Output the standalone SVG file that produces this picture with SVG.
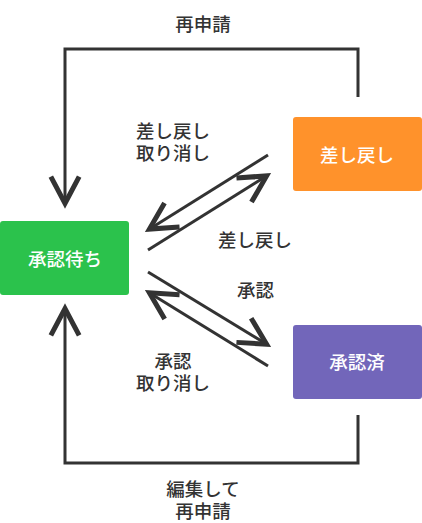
<svg xmlns="http://www.w3.org/2000/svg" width="422" height="523" viewBox="0 0 422 523">
  <style>
    .node-label { font-family: "Noto Sans CJK JP", "Noto Sans", sans-serif; font-size: 18.5px; font-weight: 500; fill: #ffffff; text-anchor: middle; dominant-baseline: central; }
    .edge-label { font-family: "Noto Sans CJK JP", "Noto Sans", sans-serif; font-size: 18.5px; font-weight: 500; fill: #333333; dominant-baseline: central; }
    .edge { fill: none; stroke: #333333; stroke-width: 3; marker-end: url(#arrow); }
  </style>
  <defs>
    <marker id="arrow" markerUnits="userSpaceOnUse" markerWidth="40" markerHeight="40" viewBox="-20 -12 24 24" refX="0" refY="0" orient="auto" overflow="visible">
      <path d="M-17,-8.5 L-1,0 L-17,8.5" fill="none" stroke="#333333" stroke-width="3"/>
    </marker>
  </defs>
  <rect width="422" height="523" fill="#ffffff"/>

  <g id="connectors">
    <polyline class="edge" points="358,97 358,49 65,49 65,205"/>
    <polyline class="edge" points="358,415 358,463 65,463 65,307"/>
    <line class="edge" x1="268" y1="155" x2="148" y2="230"/>
    <line class="edge" x1="148" y1="250" x2="268" y2="175"/>
    <line class="edge" x1="148" y1="272" x2="268" y2="345"/>
    <line class="edge" x1="268" y1="366" x2="148" y2="292"/>
  </g>

  <g id="edge-labels">
    <text class="edge-label" x="203" y="23" text-anchor="middle">再申請</text>
    <text class="edge-label" x="136" y="130">差し戻し<tspan x="136" dy="22">取り消し</tspan></text>
    <text class="edge-label" x="218" y="239">差し戻し</text>
    <text class="edge-label" x="237" y="289">承認</text>
    <text class="edge-label" x="173" y="360" text-anchor="middle">承認<tspan x="173" dy="22">取り消し</tspan></text>
    <text class="edge-label" x="203" y="488" text-anchor="middle">編集して<tspan x="203" dy="22">再申請</tspan></text>
  </g>

  <g id="node-waiting">
    <rect x="0" y="221" width="129" height="74" rx="3" fill="#2BC24C"/>
    <text class="node-label" x="65" y="258">承認待ち</text>
  </g>
  <g id="node-returned">
    <rect x="293" y="117" width="129" height="74" rx="3" fill="#FF922B"/>
    <text class="node-label" x="357" y="154">差し戻し</text>
  </g>
  <g id="node-approved">
    <rect x="293" y="325" width="129" height="74" rx="3" fill="#7266BA"/>
    <text class="node-label" x="357" y="361">承認済</text>
  </g>
</svg>
